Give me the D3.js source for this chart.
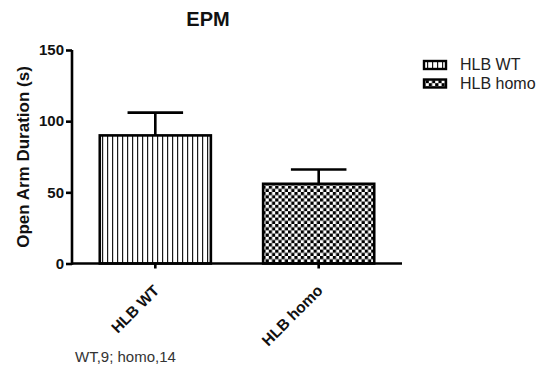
<!DOCTYPE html>
<html>
<head>
<meta charset="utf-8">
<script src="https://cdn.jsdelivr.net/npm/d3@7"></script>
<style>
  html, body { margin: 0; padding: 0; background: #fff; }
  svg { display: block; font-family: "Liberation Sans", Arial, sans-serif; }
</style>
</head>
<body>
<svg id="chart" width="548" height="373"></svg>
<script>
// Group labels, means and upper error values (mean + SEM)
const groups = ["HLB WT", "HLB homo"];
const means = [90, 56];
const errors = [16, 10];
const yTicks = [0, 50, 100, 150];
const patterns = ["stripes", "checker"];
const title = "EPM";
const yTitle = "Open Arm Duration (s)";
const note = "WT,9; homo,14";

const svg = d3.select("#chart");
const plot = { left: 72, right: 402, top: 50, bottom: 263.5 };

// fill patterns
const defs = svg.append("defs");
const stripes = defs.append("pattern")
  .attr("id", "stripes").attr("patternUnits", "userSpaceOnUse")
  .attr("width", 5).attr("height", 5);
stripes.append("rect").attr("width", 5).attr("height", 5).attr("fill", "#fff");
stripes.append("rect").attr("x", 2).attr("width", 1.2).attr("height", 5).attr("fill", "#1a1a1a");

const checker = defs.append("pattern")
  .attr("id", "checker").attr("patternUnits", "userSpaceOnUse")
  .attr("width", 6.4).attr("height", 6.4);
checker.append("rect").attr("width", 6.4).attr("height", 6.4).attr("fill", "#fff");
checker.append("rect").attr("width", 3.2).attr("height", 3.2).attr("fill", "#000");
checker.append("rect").attr("x", 3.2).attr("y", 3.2).attr("width", 3.2).attr("height", 3.2).attr("fill", "#000");

const x = d3.scaleBand().domain(groups)
  .range([plot.left, plot.right]).paddingInner(0.32).paddingOuter(0.17);
const y = d3.scaleLinear().domain([0, 150]).range([plot.bottom, plot.top]);

// title
svg.append("text").attr("x", 208).attr("y", 26)
  .attr("text-anchor", "middle").attr("font-size", 20).attr("font-weight", "bold")
  .attr("fill", "#111").text(title);

// bars
const data = groups.map((g, i) => ({ g, m: means[i], e: errors[i], p: patterns[i] }));
const bw = x.bandwidth();

// error bars (upper only)
const eg = svg.append("g").attr("stroke", "#000").attr("stroke-width", 2.6);
data.forEach(d => {
  const cx = x(d.g) + bw / 2;
  eg.append("line").attr("x1", cx).attr("x2", cx).attr("y1", y(d.m)).attr("y2", y(d.m + d.e));
  eg.append("line").attr("x1", cx - bw / 4).attr("x2", cx + bw / 4)
    .attr("y1", y(d.m + d.e)).attr("y2", y(d.m + d.e));
});

svg.append("g").selectAll("rect").data(data).join("rect")
  .attr("x", d => x(d.g)).attr("width", bw)
  .attr("y", d => y(d.m)).attr("height", d => y(0) - y(d.m))
  .attr("fill", d => `url(#${d.p})`)
  .attr("stroke", "#000").attr("stroke-width", 2.6);

// y axis
const yAxis = svg.append("g").attr("transform", `translate(${plot.left},0)`)
  .call(d3.axisLeft(y).tickValues(yTicks).tickSize(6).tickPadding(2).tickSizeOuter(0));
yAxis.select(".domain").attr("stroke-width", 2.6).attr("d", `M0,${plot.bottom + 1.3}V${plot.top}`);
yAxis.selectAll(".tick line").attr("stroke-width", 2.6);
yAxis.selectAll(".tick text").attr("font-size", 15).attr("font-weight", "bold")
  .attr("fill", "#111").attr("font-family", "Liberation Sans, Arial, sans-serif");

// x axis
const xAxis = svg.append("g").attr("transform", `translate(0,${plot.bottom})`)
  .call(d3.axisBottom(x).tickSize(5).tickSizeOuter(0));
xAxis.select(".domain").attr("stroke-width", 2.6).attr("d", `M${plot.left},0H${plot.right}`);
xAxis.selectAll(".tick line").attr("stroke-width", 2.6);
xAxis.selectAll(".tick text")
  .attr("font-size", 15.5).attr("font-weight", "bold").attr("fill", "#111")
  .attr("font-family", "Liberation Sans, Arial, sans-serif")
  .attr("text-anchor", "end").attr("dy", null).attr("y", null)
  .attr("transform", "translate(5,28) rotate(-45)");

// y axis title
svg.append("text")
  .attr("transform", "translate(29,157) rotate(-90)")
  .attr("text-anchor", "middle").attr("font-size", 17).attr("font-weight", "bold")
  .attr("fill", "#111").text(yTitle);

// legend
const lg = svg.append("g");
groups.forEach((g, i) => {
  const ly = 61 + i * 18.5;
  lg.append("rect").attr("x", 424).attr("y", ly).attr("width", 22).attr("height", 8)
    .attr("fill", `url(#${patterns[i]})`).attr("stroke", "#000").attr("stroke-width", 2.4);
  lg.append("text").attr("x", 460).attr("y", ly + 9).attr("font-size", 16)
    .attr("fill", "#222").text(g);
});

// sample size note
svg.append("text").attr("x", 75).attr("y", 362).attr("font-size", 15)
  .attr("fill", "#333").text(note);
</script>
</body>
</html>
